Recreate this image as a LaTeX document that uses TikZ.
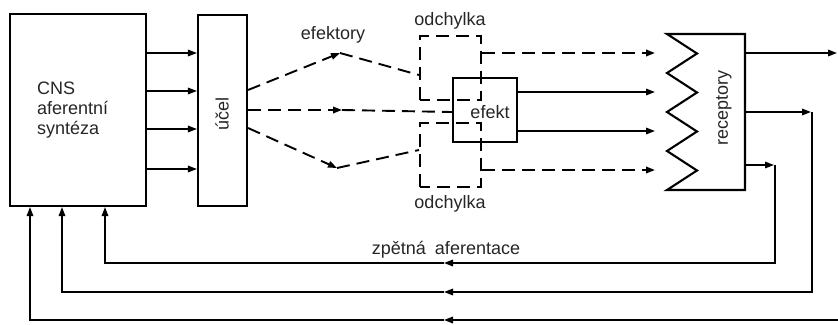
\documentclass[tikz,border=0pt]{standalone}
\usepackage{fontspec}
\setmainfont{Liberation Sans}
\usetikzlibrary{arrows.meta}
\begin{document}
\begin{tikzpicture}[x=1pt,y=-1pt,
  box/.style={draw,line width=2.1pt,inner sep=0pt},
  dbox/.style={draw,line width=2.1pt,inner sep=0pt,dash pattern=on 13pt off 7pt,dash phase=3pt},
  ln/.style={line width=1.6pt},
  arr/.style={line width=1.6pt,-{Triangle[length=9pt,width=6.5pt]}},
  darr/.style={line width=1.9pt,dash pattern=on 13pt off 7pt,-{Triangle[length=9pt,width=6.5pt]}},
  dln/.style={line width=1.9pt,dash pattern=on 13pt off 7pt},
  txt/.style={font=\fontsize{18}{20}\selectfont,inner sep=0pt,text=black!85}]
\useasboundingbox (0,0) rectangle (838,324);
% main boxes
\node[box,minimum width=136pt,minimum height=192pt] (cns) at (78,110) {};
\node[txt,anchor=north west,align=left] (cnstext) at (37,82) {CNS\\aferentní\\syntéza};
\node[box,minimum width=49pt,minimum height=191pt] (ucel) at (222.5,110.5) {};
\node[txt,rotate=90] (uceltext) at (222,114) {účel};
\node[dbox,minimum width=61pt,minimum height=64pt] (odch1) at (450.5,68) {};
\node[dbox,minimum width=61pt,minimum height=64pt] (odch2) at (450.5,155) {};
\node[box,minimum width=64pt,minimum height=64pt] (efekt) at (485,110) {};
\node[txt] (efekttext) at (490,112) {efekt};
\node[txt] (odl1) at (450,21) {odchylka};
\node[txt] (odl2) at (450,204) {odchylka};
\node[txt] (eflbl) at (333,35) {efektory};
% receptory
\draw[line width=2.1pt,line join=miter] (667,34) -- (745,34) -- (745,190) -- (667,190)
  -- (697,170.5) -- (667,151) -- (697,131.5) -- (667,112) -- (697,92.5) -- (667,73)
  -- (697,53.5) -- cycle;
\node[txt,rotate=90] (rectext) at (724,108) {receptory};
\coordinate (recIn1) at (655,53);
\coordinate (recIn2) at (655,92);
\coordinate (recIn3) at (655,131);
\coordinate (recIn4) at (655,170);
% CNS -> ucel
\foreach \yy in {53,91,129,169}{
  \draw[arr] (cns.east |- 0,\yy) -- (ucel.west |- 0,\yy);
}
% effectors
\coordinate (ap1) at (340,53);
\coordinate (ap2) at (342,110);
\coordinate (ap3) at (337,168);
\draw[darr] (ucel.east |- 0,90) -- (ap1);
\draw[dln] (ap1) -- (odch1.west |- 0,75);
\draw[darr] (ucel.east |- 0,110) -- (ap2);
\draw[dln] (ap2) -- (efekt.west |- 0,112);
\draw[darr] (ucel.east |- 0,128) -- (ap3);
\draw[dln] (ap3) -- (odch2.west |- 0,150);
% to receptors
\draw[darr] (odch1.east |- recIn1) -- (recIn1);
\draw[arr] (efekt.east |- recIn2) -- (recIn2);
\draw[arr] (efekt.east |- recIn3) -- (recIn3);
\draw[darr] (odch2.east |- recIn4) -- (recIn4);
% receptor outputs
\coordinate (out) at (837,53);
\draw[arr] (745,53) -- (out);
\coordinate (c2) at (812,112);
\coordinate (c1) at (775,165);
\draw[arr] (745,112) -- ([xshift=-1pt]c2);
\draw[arr] (745,165) -- ([xshift=-1pt]c1);
% feedback
\coordinate (m1) at (444,263);
\coordinate (m2) at (444,292);
\coordinate (m3) at (444,320);
\coordinate (r3) at (838,320);
\draw[arr] (c1) |- (m1);
\draw[arr] (m1) -| (cns.south -| 105,0);
\draw[arr] (c2) |- (m2);
\draw[arr] (m2) -| (cns.south -| 62,0);
\draw[arr] (r3) -- (m3);
\draw[arr] (m3) -| (cns.south -| 30,0);
\node[txt] (zpet) at (446,250) {zpětná\hspace{9pt}aferentace};
\end{tikzpicture}
\end{document}
